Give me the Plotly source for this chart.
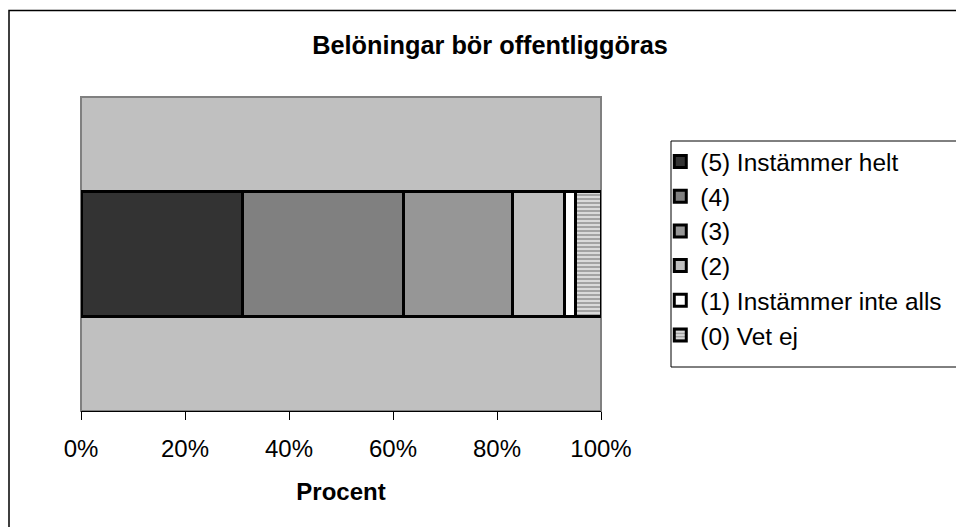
import plotly.graph_objects as go

# Survey answers, share of respondents (%)
categories = ["(5) Instämmer helt", "(4)", "(3)", "(2)", "(1) Instämmer inte alls", "(0) Vet ej"]
shares = [31, 31, 21, 10, 2, 5]
fill_colors = ["#333333", "#808080", "#969696", "#C0C0C0", "#FFFFFF", "#D0D0D0"]
tick_values = [0, 20, 40, 60, 80, 100]
tick_labels = ["0%", "20%", "40%", "60%", "80%", "100%"]

FONT = "Liberation Sans, Arial, sans-serif"

fig = go.Figure()
for i, (name, val, col) in enumerate(zip(categories, shares, fill_colors)):
    marker = dict(color=col, line=dict(color="#000000", width=3))
    if name.startswith("(0)"):
        marker["pattern"] = dict(shape="-", fgcolor="#606060", bgcolor="#DADADA",
                                 size=4, solidity=0.45)
    fig.add_trace(go.Bar(
        x=[val], y=[0], name=name, orientation="h", width=0.4,
        legendgroup=f"g{i}", marker=marker, hoverinfo="name+x",
    ))

fig.update_layout(
    width=956, height=527,
    margin=dict(l=81, r=355, t=97, b=116, pad=0, autoexpand=False),
    barmode="stack",
    paper_bgcolor="#FFFFFF",
    plot_bgcolor="#C0C0C0",
    font=dict(family=FONT, size=24, color="#000000"),
    title=dict(text="<b>Belöningar bör offentliggöras</b>", xref="container",
               x=0.5126, xanchor="center", y=1 - 45 / 527, yanchor="middle",
               font=dict(family=FONT, size=25.3, color="#000000")),
    xaxis=dict(range=[0, 100], tickvals=tick_values, ticktext=tick_labels,
               ticks="outside", ticklen=8, tickwidth=1, tickcolor="#000000",
               ticklabelstandoff=8,
               showline=True, linecolor="#000000", linewidth=1,
               showgrid=False, zeroline=False,
               tickfont=dict(family=FONT, size=24),
               title=dict(text="<b>Procent</b>", standoff=22,
                          font=dict(family=FONT, size=24))),
    yaxis=dict(range=[-0.5, 0.5], visible=False, showgrid=False, zeroline=False),
    showlegend=True,
    legend=dict(x=1.114, xanchor="left", y=0.866, yanchor="top",
                bgcolor="rgba(0,0,0,0)", borderwidth=0,
                font=dict(family=FONT, size=24.4), traceorder="normal",
                tracegroupgap=1),
    shapes=[
        # plot area frame
        dict(type="rect", xref="paper", yref="paper", x0=0, x1=1, y0=0, y1=1,
             line=dict(color="#808080", width=2), layer="below"),
        # legend frame
        dict(type="rect", xref="paper", yref="paper",
             x0=(671 - 81) / 520, x1=(980 - 81) / 520,
             y0=(411 - 367) / 314, y1=(411 - 141) / 314,
             line=dict(color="#000000", width=1), fillcolor="rgba(0,0,0,0)"),
        # chart frame
        dict(type="rect", xref="paper", yref="paper",
             x0=(9 - 81) / 520, x1=(1000 - 81) / 520,
             y0=(411 - 600) / 314, y1=(411 - 10.5) / 314,
             line=dict(color="#000000", width=1.5), fillcolor="rgba(0,0,0,0)"),
    ],
)

fig.write_html("out.html")
